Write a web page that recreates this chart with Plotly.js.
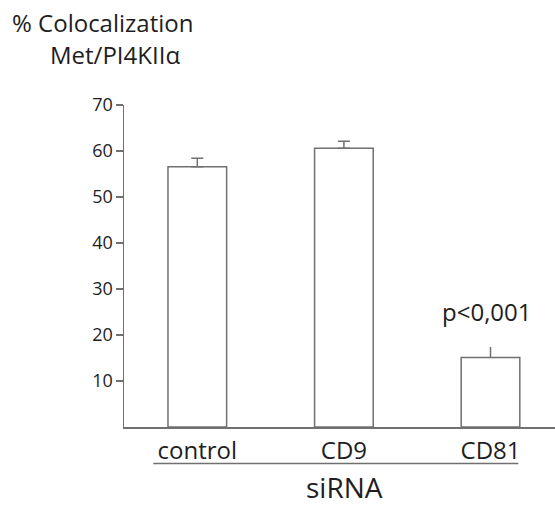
<!DOCTYPE html>
<html><head><meta charset="utf-8">
<script src="https://cdn.plot.ly/plotly-3.0.1.min.js"></script>
<style>body{margin:0;background:#fff}#c{width:555px;height:507px}</style>
</head><body><div id="c"></div>
<script>
const categories = ["control", "CD9", "CD81"];
const values = [56.6, 60.6, 15.1];
const errors = [1.8, 1.5, 2.3];
const errCaps = [6, 6, 0];
const yTicks = [10, 20, 30, 40, 50, 60, 70];
const titleLine1 = "% Colocalization";
const titleLine2 = "Met/PI4KIIα";
const pLabel = "p<0,001";
const xTitle = "siRNA";

const FONT = "Open Sans, Lato, sans-serif";
const lineCol = "#707070";
const textCol = "#1e1e1e";

const traces = categories.map((c, i) => ({
  type: "bar",
  x: [c], y: [values[i]],
  width: 0.4,
  marker: {color: "#ffffff", line: {color: lineCol, width: 1.5}},
  error_y: {type: "data", array: [errors[i]], arrayminus: [0], symmetric: false,
            color: lineCol, thickness: 1.5, width: errCaps[i]},
  showlegend: false, hoverinfo: "skip"
}));

const layout = {
  width: 555, height: 507,
  margin: {l: 124, r: 0, t: 105, b: 80},
  paper_bgcolor: "#fff", plot_bgcolor: "#fff",
  font: {family: FONT, color: textCol},
  bargap: 0.6,
  xaxis: {
    type: "category", range: [-0.5, 2.44],
    showline: true, linecolor: lineCol, linewidth: 1.5,
    ticks: "", showgrid: false, zeroline: false,
    tickfont: {size: 24, color: textCol},
    ticklabelstandoff: 2
  },
  yaxis: {
    range: [0, 70], tickvals: yTicks, ticktext: yTicks.map(String),
    showline: true, linecolor: lineCol, linewidth: 1.5,
    ticks: "outside", ticklen: 7, tickcolor: lineCol, tickwidth: 1.5,
    showgrid: false, zeroline: false,
    tickfont: {size: 18, color: textCol}, ticklabelstandoff: -1
  },
  shapes: [{
    type: "line", xref: "x", yref: "paper",
    x0: -0.3, x1: 2.19, y0: -0.113, y1: -0.113,
    line: {color: lineCol, width: 1.5}
  }],
  annotations: [
    {text: titleLine1, xref: "paper", yref: "paper", x: -124/431 + 10/431, xanchor: "left",
     y: 1 + (105 - 22) / 322, yanchor: "middle", showarrow: false, font: {size: 24, color: textCol}},
    {text: titleLine2, xref: "paper", yref: "paper", x: -124/431 + 115/431, xanchor: "center",
     y: 1 + (105 - 54) / 322, yanchor: "middle", showarrow: false, font: {size: 24, color: textCol}},
    {text: pLabel, xref: "x", yref: "y", x: categories[2], y: values[2] + errors[2],
     yanchor: "bottom", yshift: 17, xshift: -4, showarrow: false, font: {size: 24, color: textCol}},
    {text: xTitle, xref: "paper", yref: "paper", x: (344 - 124) / 431, xanchor: "center",
     y: (427.5 - 507) / 322, yanchor: "bottom", borderpad: 0, showarrow: false, font: {size: 28, color: textCol}}
  ]
};

Plotly.newPlot("c", traces, layout, {displayModeBar: false, staticPlot: true});
</script>
</body></html>
